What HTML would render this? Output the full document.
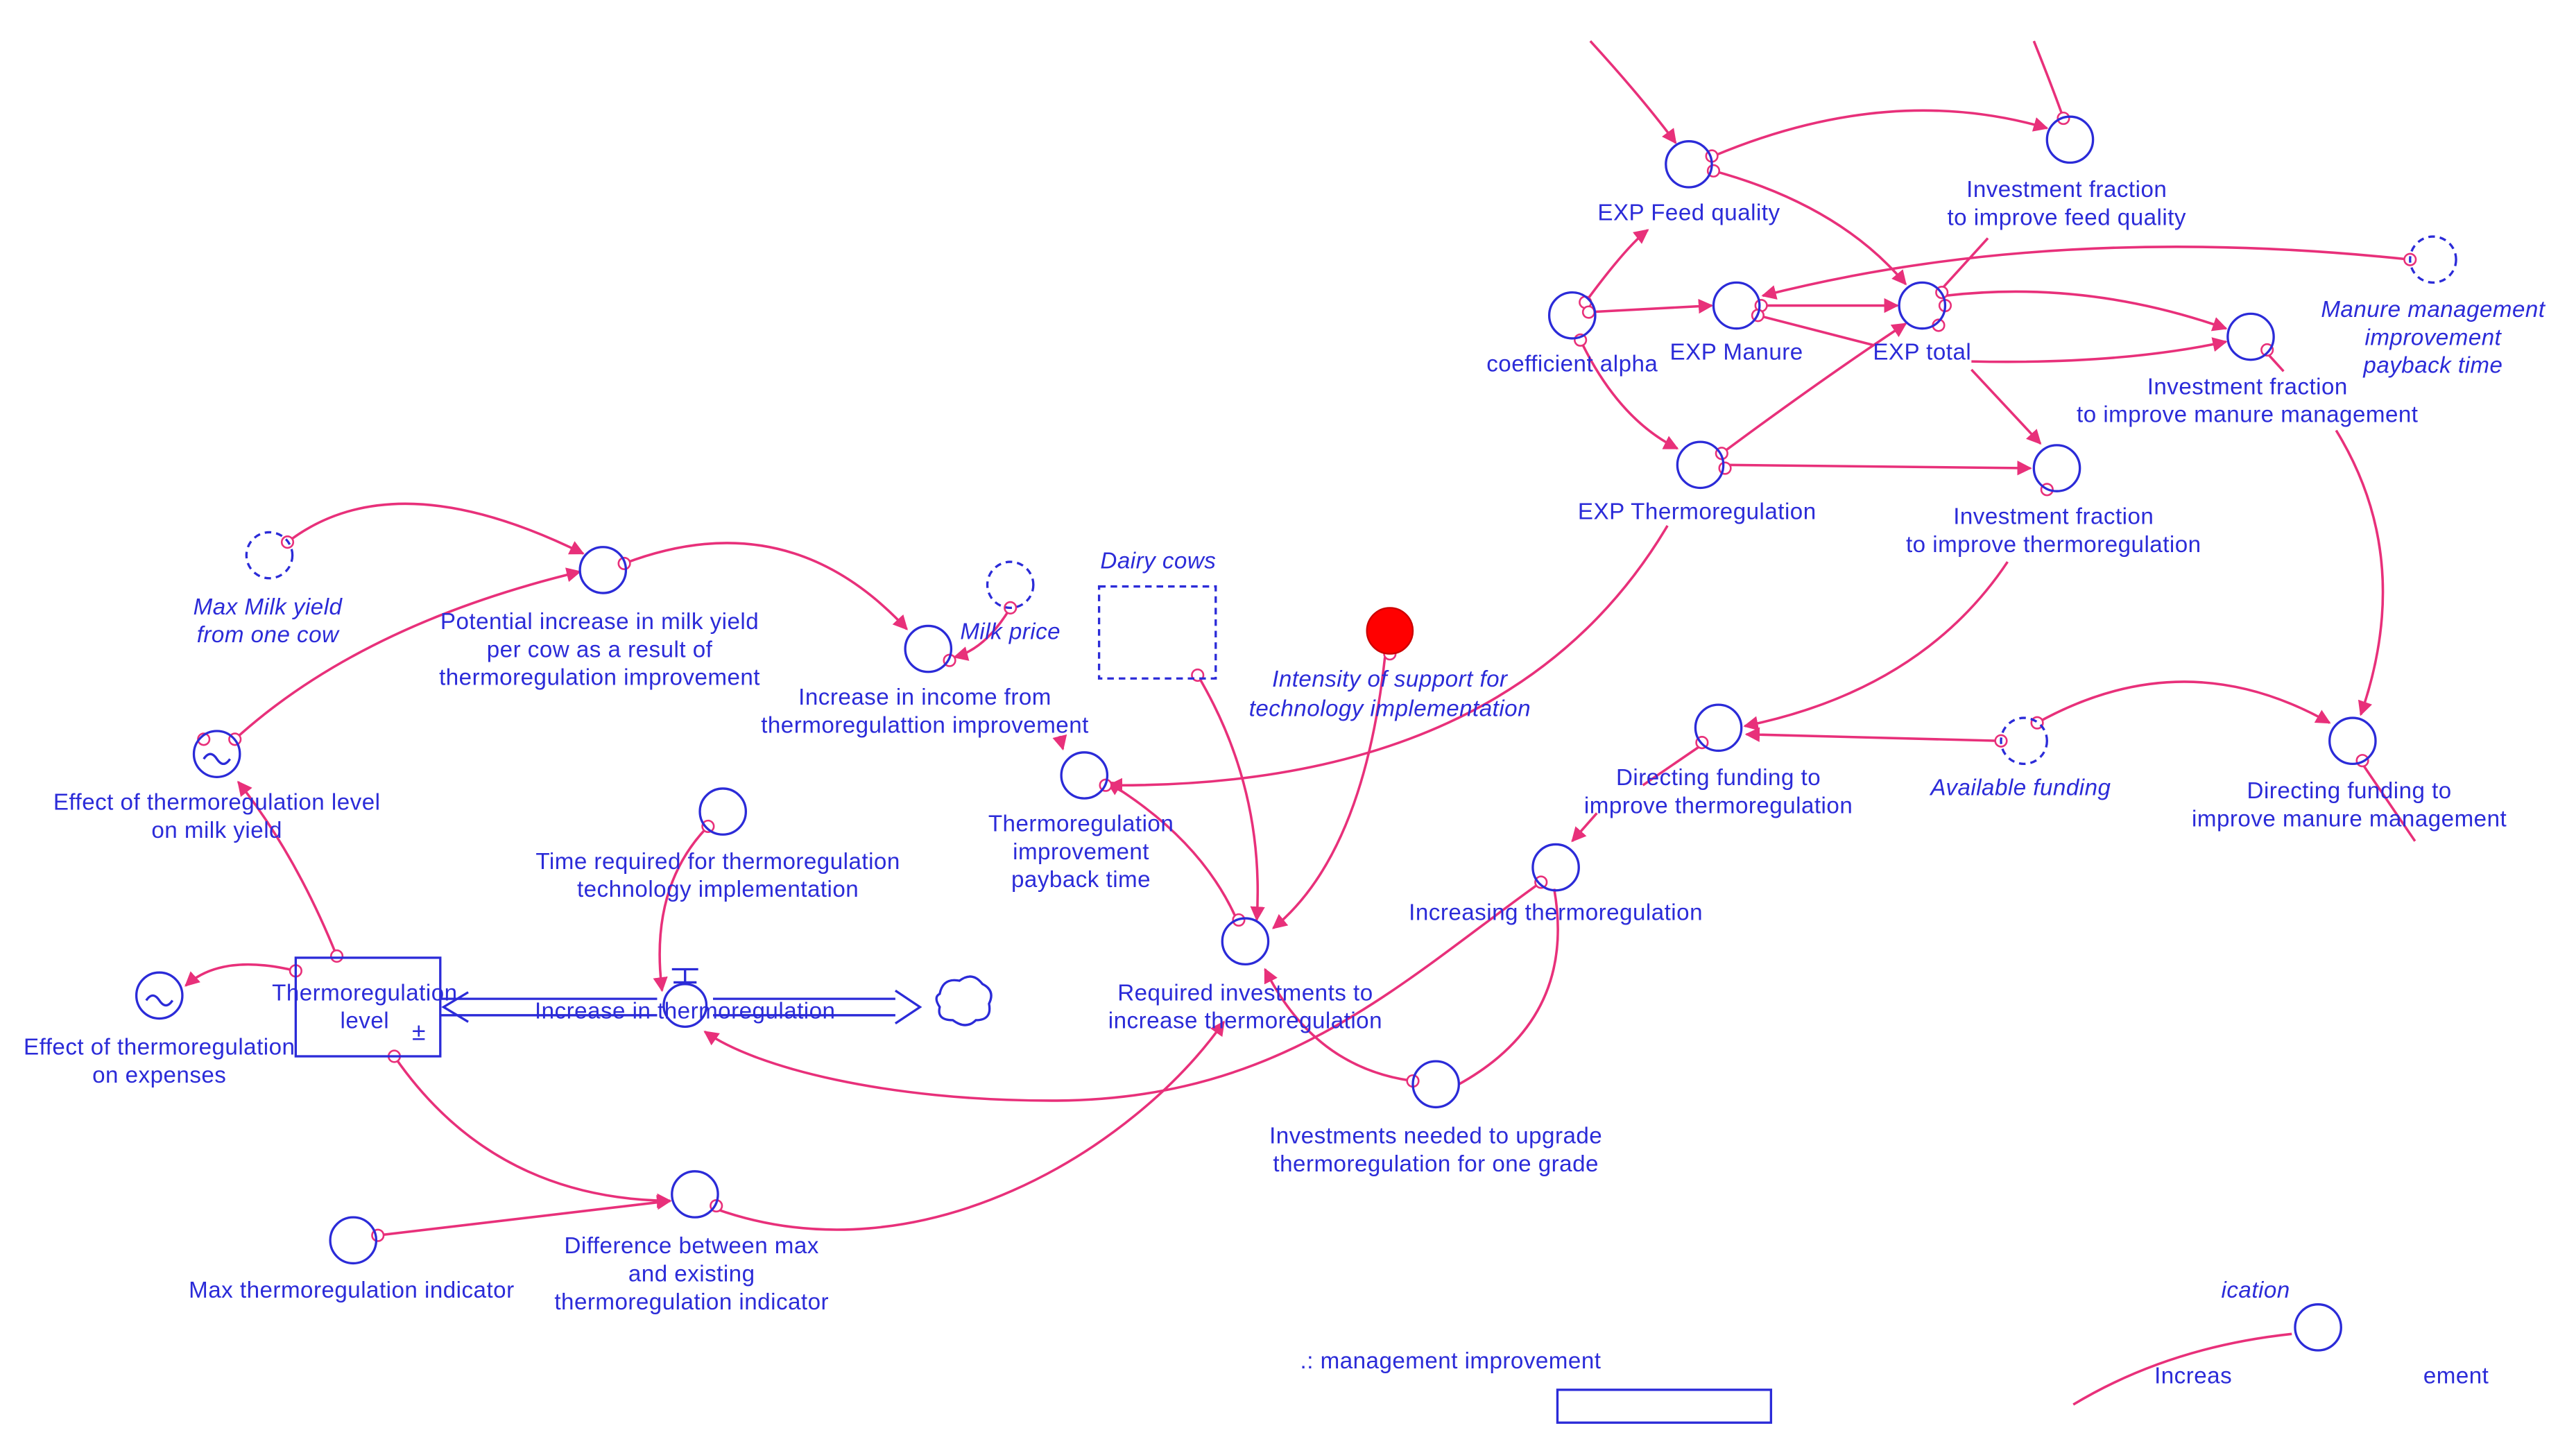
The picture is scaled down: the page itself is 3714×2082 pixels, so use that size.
<!DOCTYPE html>
<html><head><meta charset="utf-8"><style>
html,body{margin:0;padding:0;background:#fff;}
svg{display:block;}
text{font-family:"Liberation Sans",sans-serif;font-size:14px;letter-spacing:0.2px;fill:#2b2bd8;text-anchor:middle;}
.i{font-style:italic;}
.n{fill:none;stroke:#2b2bd8;stroke-width:1.4;}
.d{fill:none;stroke:#2b2bd8;stroke-width:1.4;stroke-dasharray:4 3;}
.c{fill:none;stroke:#e8307a;stroke-width:1.5;}
.t{fill:#fff;stroke:#e8307a;stroke-width:1.1;}
</style></head><body>
<svg width="3714" height="2082" viewBox="0 0 1568 879" preserveAspectRatio="none" xmlns="http://www.w3.org/2000/svg">
<defs><marker id="a" viewBox="0 0 10 10" refX="9" refY="5" markerWidth="9" markerHeight="9" markerUnits="userSpaceOnUse" orient="auto"><path d="M0,0 L10,5 L0,10 z" fill="#e8307a"/></marker></defs>

<g class="c" marker-end="url(#a)">
<path d="M968,25 Q1000,60 1020,87"/>
<path d="M1043,95 Q1150,50 1246,78"/>
<path d="M1043,104 Q1120,125 1160,173"/>
<path d="M965,184 Q990,150 1003,140"/>
<path d="M967,190 L1042,186"/>
<path d="M962,207 Q985,255 1021,273"/>
<path d="M1072,186 L1155,186"/>
<path d="M1467,158 Q1250,135 1073,180"/>
<path d="M1048,276 Q1110,230 1160,197"/>
<path d="M1050,283 L1236,285"/>
<path d="M1184,180 Q1270,170 1355,200"/>
<path d="M1200,220 Q1290,222 1355,208"/>
<path d="M1200,225 L1242,270"/>
<path d="M1422,262 Q1470,340 1437,435"/>
<path d="M1222,342 Q1170,420 1062,442"/>
<path d="M1218,451 L1063,447"/>
<path d="M1240,440 Q1330,390 1418,440"/>
<path d="M972,495 L957,512"/>
<path d="M938,537 C850,600 780,670 640,670 C540,670 460,650 429,628"/>
<path d="M860,658 Q800,650 770,590"/>
<path d="M436,736 C560,780 690,700 745,622"/>
<path d="M729,411 Q770,480 765,560"/>
<path d="M843,400 Q830,520 775,565"/>
<path d="M752,558 Q730,510 674,476"/>
<path d="M1015,320 Q920,480 675,478"/>
<path d="M645,448 L647,456"/>
<path d="M615,370 Q600,395 581,400"/>
<path d="M380,343 Q480,305 552,383"/>
<path d="M175,330 Q240,280 355,337"/>
<path d="M143,450 Q220,380 353,348"/>
<path d="M205,582 Q180,520 145,476"/>
<path d="M180,591 Q135,580 113,600"/>
<path d="M240,643 Q300,730 408,731"/>
<path d="M230,752 L408,731"/>
<path d="M431,503 Q395,540 403,603"/>
</g>
<g class="c">
<path d="M1238,25 Q1250,55 1256,72"/>
<path d="M1210,145 L1180,178"/>
<path d="M1070,192 L1140,210"/>
<path d="M1380,215 L1390,226"/>
<path d="M1438,465 L1470,512"/>
<path d="M1038,452 L1000,478"/>
<path d="M946,541 Q960,620 888,660"/>
<path d="M1262,855 Q1320,820 1395,812"/>
</g>
<g class="t">
<circle cx="1042" cy="95" r="3.5"/><circle cx="1043" cy="104" r="3.5"/>
<circle cx="965" cy="184" r="3.5"/><circle cx="967" cy="190" r="3.5"/><circle cx="962" cy="207" r="3.5"/>
<circle cx="1072" cy="186" r="3.5"/><circle cx="1070" cy="192" r="3.5"/><circle cx="1467" cy="158" r="3.5"/>
<circle cx="1048" cy="276" r="3.5"/><circle cx="1050" cy="285" r="3.5"/>
<circle cx="1182" cy="178" r="3.5"/><circle cx="1184" cy="186" r="3.5"/><circle cx="1180" cy="198" r="3.5"/>
<circle cx="1256" cy="72" r="3.5"/><circle cx="1380" cy="213" r="3.5"/><circle cx="1246" cy="298" r="3.5"/>
<circle cx="1218" cy="451" r="3.5"/><circle cx="1240" cy="440" r="3.5"/><circle cx="1438" cy="463" r="3.5"/>
<circle cx="1036" cy="452" r="3.5"/><circle cx="938" cy="537" r="3.5"/><circle cx="860" cy="658" r="3.5"/>
<circle cx="436" cy="734" r="3.5"/><circle cx="729" cy="411" r="3.5"/><circle cx="846" cy="398" r="3.5"/>
<circle cx="754" cy="560" r="3.5"/><circle cx="615" cy="370" r="3.5"/><circle cx="380" cy="343" r="3.5"/>
<circle cx="175" cy="330" r="3.5"/><circle cx="143" cy="450" r="3.5"/><circle cx="124" cy="450" r="3.5"/>
<circle cx="205" cy="582" r="3.5"/><circle cx="180" cy="591" r="3.5"/><circle cx="240" cy="643" r="3.5"/>
<circle cx="230" cy="752" r="3.5"/><circle cx="431" cy="503" r="3.5"/><circle cx="673" cy="478" r="3.5"/>
<circle cx="578" cy="402" r="3.5"/>
</g>

<g class="n">
<circle cx="1028" cy="100" r="14"/><circle cx="1260" cy="85" r="14"/>
<circle cx="957" cy="192" r="14"/><circle cx="1057" cy="186" r="14"/><circle cx="1170" cy="186" r="14"/>
<circle cx="1370" cy="205" r="14"/><circle cx="1035" cy="283" r="14"/><circle cx="1252" cy="285" r="14"/>
<circle cx="1046" cy="443" r="14"/><circle cx="1432" cy="451" r="14"/><circle cx="947" cy="528" r="14"/>
<circle cx="874" cy="660" r="14"/><circle cx="758" cy="573" r="14"/><circle cx="660" cy="472" r="14"/>
<circle cx="565" cy="395" r="14"/><circle cx="367" cy="347" r="14"/><circle cx="132" cy="459" r="14"/>
<circle cx="440" cy="494" r="14"/><circle cx="97" cy="606" r="14"/><circle cx="423" cy="727" r="14"/>
<circle cx="215" cy="755" r="14"/><circle cx="1411" cy="808" r="14"/>
<path d="M124,462 q4,-6 8,0 t8,0"/><path d="M89,609 q4,-6 8,0 t8,0"/>
<rect x="180" y="583" width="88" height="60"/>
<circle cx="417" cy="612" r="13"/>
<path d="M409,590 h16 M417,590 v8 M410,598 h14"/>
<path d="M268,608 H400 M268,618 H400 M434,608 H545 M434,618 H545 M545,603 L560,613 L545,623"/>
<path d="M285,604 L270,613 L285,622" />
<path d="M572,605 q2,-10 12,-8 q8,-6 14,2 q8,4 4,12 q2,10 -8,10 q-6,6 -14,0 q-10,0 -8,-8 q-4,-6 0,-8z"/>
<rect x="948" y="846" width="130" height="20"/>
</g>
<g class="d">
<circle cx="1481" cy="158" r="14"/><circle cx="1232" cy="451" r="14"/><circle cx="615" cy="356" r="14"/>
<circle cx="164" cy="338" r="14"/><rect x="669" y="357" width="71" height="56"/>
</g>
<circle cx="846" cy="384" r="14" fill="#f00" stroke="#c00" stroke-width="1"/>

<text x="1028" y="134">EXP Feed quality</text>
<text x="1258" y="120">Investment fraction</text><text x="1258" y="137">to improve feed quality</text>
<text x="957" y="226">coefficient alpha</text>
<text x="1057" y="219">EXP Manure</text><text x="1170" y="219">EXP total</text>
<text class="i" x="1481" y="193">Manure management</text><text class="i" x="1481" y="210">improvement</text><text class="i" x="1481" y="227">payback time</text>
<text x="1368" y="240">Investment fraction</text><text x="1368" y="257">to improve manure management</text>
<text x="1033" y="316">EXP Thermoregulation</text>
<text x="1250" y="319">Investment fraction</text><text x="1250" y="336">to improve thermoregulation</text>
<text x="1046" y="478">Directing funding to</text><text x="1046" y="495">improve thermoregulation</text>
<text class="i" x="1230" y="484">Available funding</text>
<text x="1430" y="486">Directing funding to</text><text x="1430" y="503">improve manure management</text>
<text x="947" y="560">Increasing thermoregulation</text>
<text x="874" y="696">Investments needed to upgrade</text><text x="874" y="713">thermoregulation for one grade</text>
<text x="758" y="609">Required investments to</text><text x="758" y="626">increase thermoregulation</text>
<text x="658" y="506">Thermoregulation</text><text x="658" y="523">improvement</text><text x="658" y="540">payback time</text>
<text class="i" x="846" y="418">Intensity of support for</text><text class="i" x="846" y="436">technology implementation</text>
<text class="i" x="705" y="346">Dairy cows</text>
<text class="i" x="615" y="389">Milk price</text>
<text x="563" y="429">Increase in income from</text><text x="563" y="446">thermoregulattion improvement</text>
<text x="365" y="383">Potential increase in milk yield</text><text x="365" y="400">per cow as a result of</text><text x="365" y="417">thermoregulation improvement</text>
<text class="i" x="163" y="374">Max Milk yield</text><text class="i" x="163" y="391">from one cow</text>
<text x="132" y="493">Effect of thermoregulation level</text><text x="132" y="510">on milk yield</text>
<text x="437" y="529">Time required for thermoregulation</text><text x="437" y="546">technology implementation</text>
<text x="222" y="609">Thermoregulation</text><text x="222" y="626">level</text><text x="255" y="633" style="font-size:15px">±</text>
<text x="417" y="620">Increase in thermoregulation</text>
<text x="97" y="642">Effect of thermoregulation</text><text x="97" y="659">on expenses</text>
<text x="421" y="763">Difference between max</text><text x="421" y="780">and existing</text><text x="421" y="797">thermoregulation indicator</text>
<text x="214" y="790">Max thermoregulation indicator</text>
<text x="883" y="833">.: management improvement</text>
<text class="i" x="1373" y="790">ication</text>
<text x="1335" y="842">Increas</text><text x="1495" y="842">ement</text>
</svg>
</body></html>
